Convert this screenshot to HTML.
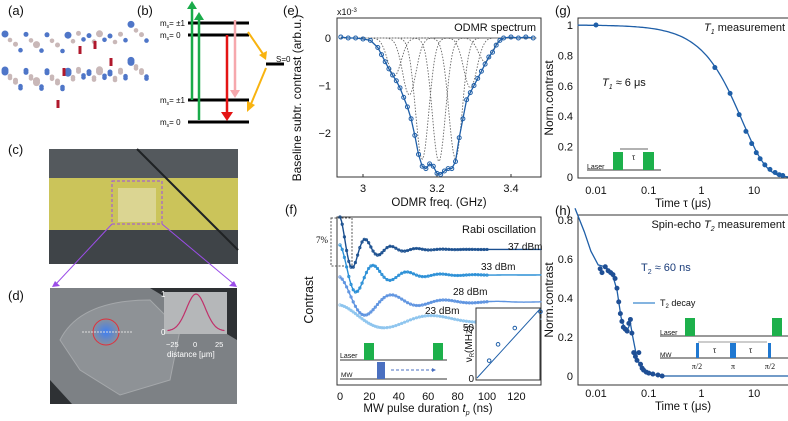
<!DOCTYPE html>
<html><head><meta charset="utf-8"><style>
body{margin:0;background:#fff;}
svg{display:block;font-family:"Liberation Sans",sans-serif;}
</style></head><body>
<svg id="fig" width="788" height="421" viewBox="0 0 788 421">
<!-- panel letters -->
<g font-size="13" fill="#111">
<text x="8" y="15">(a)</text>
<text x="137" y="15">(b)</text>
<text x="8" y="154">(c)</text>
<text x="8" y="300">(d)</text>
<text x="283" y="15">(e)</text>
<text x="285" y="214">(f)</text>
<text x="555" y="15">(g)</text>
<text x="555" y="215">(h)</text>
</g>
<!-- (a) lattice -->
<g id="lattice"></g>
<!-- (b) energy levels -->
<g stroke-width="3">
<line x1="188" y1="23" x2="249" y2="23" stroke="#000"/>
<line x1="188" y1="35" x2="249" y2="35" stroke="#000"/>
<line x1="188" y1="100" x2="249" y2="100" stroke="#000"/>
<line x1="188" y1="122" x2="249" y2="122" stroke="#000"/>
<line x1="266" y1="64" x2="284" y2="64" stroke="#000"/>
<line x1="192" y1="100" x2="192" y2="8" stroke="#1aab4a" stroke-width="2.5"/>
<polygon points="187,9 197,9 192,1" fill="#1aab4a"/>
<line x1="199" y1="120" x2="199" y2="19" stroke="#1aab4a" stroke-width="2.5"/>
<polygon points="194,20 204,20 199,12" fill="#1aab4a"/>
<line x1="227" y1="35" x2="227" y2="112" stroke="#e41414" stroke-width="2.5"/>
<polygon points="221,112 233,112 227,121" fill="#e41414"/>
<line x1="235" y1="20" x2="235" y2="90" stroke="#f6a8ad" stroke-width="2.5"/>
<polygon points="230,90 240,90 235,98" fill="#f6a8ad"/>
<line x1="248" y1="32" x2="263" y2="54" stroke="#f8b310" stroke-width="2"/>
<polygon points="259,55 267,51 266,60" fill="#f8b310"/>
<line x1="266" y1="68" x2="251" y2="104" stroke="#f8b310" stroke-width="2"/>
<polygon points="247,101 255,105 247,112" fill="#f8b310"/>
</g>
<g font-size="8" fill="#111">
<text x="160" y="26">m<tspan font-size="5" dy="2">s</tspan><tspan dy="-2">= ±1</tspan></text>
<text x="160" y="38">m<tspan font-size="5" dy="2">s</tspan><tspan dy="-2">= 0</tspan></text>
<text x="160" y="103">m<tspan font-size="5" dy="2">s</tspan><tspan dy="-2">= ±1</tspan></text>
<text x="160" y="125">m<tspan font-size="5" dy="2">s</tspan><tspan dy="-2">= 0</tspan></text>
<text x="276" y="62">S=0</text>
</g>
<!-- (c) photo -->
<g>
<rect x="49" y="149" width="189" height="115" fill="#3f4448"/>
<rect x="49" y="149" width="189" height="30" fill="#54595d"/>
<rect x="49" y="178" width="189" height="52" fill="#cbc45a"/>
<rect x="118" y="188" width="38" height="34" fill="#dedaa0" opacity="0.8"/>
<line x1="137" y1="149" x2="238" y2="250" stroke="#1f2224" stroke-width="2"/>
<rect x="112" y="181" width="50" height="43" fill="none" stroke="#9b4de8" stroke-dasharray="3,2"/>
<line x1="112" y1="224" x2="55" y2="285" stroke="#9b4de8"/>
<line x1="162" y1="224" x2="235" y2="285" stroke="#9b4de8"/>
<polygon points="52,287 60,286 55,281" fill="#9b4de8"/>
<polygon points="237,287 229,286 234,281" fill="#9b4de8"/>
</g>
<!-- (d) photo -->
<g>
<rect x="50" y="288" width="187" height="116" fill="#7d8185"/>
<polygon points="150,288 237,288 237,340" fill="#2e3134"/>
<polygon points="50,380 50,404 72,404" fill="#2e3134"/>
<path d="M60 340 Q80 300 150 300 L180 330 L170 380 L120 395 L80 370Z" fill="#8e9296" stroke="#a5a8ab"/>
<radialGradient id="spot"><stop offset="0" stop-color="#3f7ff2"/><stop offset="1" stop-color="#3f7ff2" stop-opacity="0"/></radialGradient>
<circle cx="106" cy="332" r="14" fill="url(#spot)"/>
<circle cx="106" cy="332" r="13" fill="none" stroke="#e0303a" stroke-width="1"/>
<line x1="82" y1="332" x2="132" y2="332" stroke="#ddd" stroke-dasharray="2,1"/>
<rect x="164" y="292" width="63" height="42" fill="#b5b7b9"/>
<path id="gauss" fill="none" stroke="#c0306a" stroke-width="1.2"/>
<text x="161" y="297" font-size="8" fill="#fff">1</text>
<text x="161" y="335" font-size="8" fill="#fff">0</text>
<text x="166" y="347" font-size="7.5" fill="#fff">−25</text>
<text x="193" y="347" font-size="7.5" fill="#fff">0</text>
<text x="215" y="347" font-size="7.5" fill="#fff">25</text>
<text x="167" y="357" font-size="8" fill="#fff">distance [μm]</text>
</g>

<!-- (e) ODMR -->
<g id="panelE">
<rect x="337" y="18" width="204" height="159" fill="none" stroke="#333"/>
<text x="337" y="15" font-size="9" fill="#111">x10<tspan font-size="6" dy="-3">-3</tspan></text>
<text x="536" y="31" font-size="11" text-anchor="end" fill="#111">ODMR spectrum</text>
<text transform="translate(301,98) rotate(-90)" font-size="12" text-anchor="middle" fill="#111">Baseline subtr. contrast (arb.u.)</text>
<text x="439" y="206" font-size="11.5" text-anchor="middle" fill="#111">ODMR freq. (GHz)</text>
<g id="eTicks"></g><g id="eMarks"></g>
</g>

<!-- (f) Rabi -->
<g id="panelF">
<rect x="337" y="217" width="204" height="168" fill="none" stroke="#333"/>
<text x="536" y="233" font-size="11" text-anchor="end" fill="#111">Rabi oscillation</text>
<text transform="translate(313,300) rotate(-90)" font-size="12.5" text-anchor="middle" fill="#111">Contrast</text>
<text x="428" y="412" font-size="11.5" text-anchor="middle" fill="#111">MW pulse duration <tspan font-style="italic">t</tspan><tspan font-size="7" dy="3" font-style="italic">p</tspan><tspan dy="-3"> (ns)</tspan></text>
<rect x="331" y="218" width="21" height="48" fill="none" stroke="#555" stroke-dasharray="2,1.5"/>
<text x="316" y="243" font-size="9" font-family="Liberation Serif,serif" fill="#111">7%</text>
<g id="fMarks"></g>
<g font-size="10" fill="#111">
<text x="508" y="250">37 dBm</text><text x="481" y="270">33 dBm</text><text x="453" y="295">28 dBm</text><text x="425" y="314">23 dBm</text>
</g>
<g>
<line x1="340" y1="360" x2="447" y2="360" stroke="#333"/>
<rect x="364" y="343" width="10" height="17" fill="#1db04b"/>
<rect x="433" y="343" width="10" height="17" fill="#1db04b"/>
<line x1="340" y1="379" x2="447" y2="379" stroke="#333"/>
<rect x="377" y="362" width="8" height="17" fill="#4a6fc0"/>
<line x1="391" y1="370" x2="432" y2="370" stroke="#4a6fc0" stroke-dasharray="3,2"/>
<polygon points="432,368 436,370 432,372" fill="#4a6fc0"/>
<text x="340" y="358" font-size="7" fill="#111">Laser</text>
<text x="341" y="377" font-size="6.5" fill="#111">MW</text>
</g>
<rect x="476" y="308" width="64" height="72" fill="#fff" stroke="#333"/>
<g id="insetMarks"></g>
<text transform="translate(472,344) rotate(-90)" font-size="10" text-anchor="middle" fill="#111">ν<tspan font-size="6" dy="2">R</tspan><tspan dy="-2">(MHz)</tspan></text>
</g>

<!-- (g) T1 -->
<g id="panelG">
<rect x="578" y="18" width="212" height="160" fill="none" stroke="#333"/>
<text x="785" y="31" font-size="11" text-anchor="end" fill="#111"><tspan font-style="italic">T<tspan font-size="7" dy="3">1</tspan></tspan><tspan dy="-3"> measurement</tspan></text>
<text x="602" y="86" font-size="11" fill="#111"><tspan font-style="italic">T<tspan font-size="7" dy="3">1</tspan></tspan><tspan dy="-3"> ≈ 6 μs</tspan></text>
<text transform="translate(553,98) rotate(-90)" font-size="12" text-anchor="middle" fill="#111">Norm.contrast</text>
<text x="683" y="207" font-size="11.5" text-anchor="middle" fill="#111">Time τ (μs)</text>
<g>
<line x1="587" y1="170" x2="661" y2="170" stroke="#333"/>
<rect x="613" y="152" width="10" height="18" fill="#1db04b"/>
<rect x="643" y="152" width="11" height="18" fill="#1db04b"/>
<line x1="620" y1="149" x2="648" y2="149" stroke="#333" stroke-width="0.8"/>
<text x="632" y="160" font-size="8" fill="#111">τ</text>
<text x="587" y="169" font-size="7" fill="#111">Laser</text>
</g>
<g id="gMarks"></g>
</g>

<!-- (h) T2 -->
<g id="panelH">
<rect x="578" y="215" width="212" height="170" fill="none" stroke="#333"/>
<text x="785" y="228" font-size="11" text-anchor="end" fill="#111">Spin-echo <tspan font-style="italic">T<tspan font-size="7" dy="3">2</tspan></tspan><tspan dy="-3"> measurement</tspan></text>
<text x="641" y="271" font-size="11" fill="#1b3d7a">T<tspan font-size="7" dy="3">2</tspan><tspan dy="-3"> ≈ 60 ns</tspan></text>
<text transform="translate(553,300) rotate(-90)" font-size="12" text-anchor="middle" fill="#111">Norm.contrast</text>
<text x="683" y="410" font-size="11.5" text-anchor="middle" fill="#111">Time τ (μs)</text>
<line x1="633" y1="303" x2="655" y2="303" stroke="#5b9bd5" stroke-width="1.5"/>
<text x="660" y="306" font-size="9" fill="#111">T<tspan font-size="6" dy="2">2</tspan><tspan dy="-2"> decay</tspan></text>
<g>
<line x1="660" y1="336" x2="788" y2="336" stroke="#333"/>
<rect x="685" y="318" width="10" height="18" fill="#1db04b"/>
<rect x="772" y="318" width="10" height="18" fill="#1db04b"/>
<line x1="660" y1="358" x2="788" y2="358" stroke="#333"/>
<rect x="696" y="343" width="3" height="15" fill="#1f78d1"/>
<rect x="730" y="343" width="6" height="15" fill="#1f78d1"/>
<rect x="768" y="343" width="3" height="15" fill="#1f78d1"/>
<line x1="698" y1="342" x2="767" y2="342" stroke="#333" stroke-width="0.6"/>
<text x="713" y="353" font-size="8" fill="#111">τ</text><text x="749" y="353" font-size="8" fill="#111">τ</text>
<text x="660" y="335" font-size="7" fill="#111">Laser</text>
<text x="660" y="357" font-size="6.5" fill="#111">MW</text>
<g font-size="8" font-family="Liberation Serif,serif" fill="#111" text-anchor="middle"><text x="697" y="369">π/2</text><text x="733" y="369">π</text><text x="770" y="369">π/2</text></g>
</g>
<g id="hMarks"></g>
</g>
</svg>
<script>
// ---------- data ----------
const odmrFreq = [2.94,2.96,2.98,3.0,3.02,3.04,3.05,3.06,3.07,3.08,3.09,3.10,3.11,3.12,3.13,3.14,3.15,3.16,3.17,3.18,3.19,3.20,3.21,3.22,3.23,3.24,3.25,3.26,3.27,3.28,3.29,3.30,3.31,3.32,3.33,3.34,3.35,3.36,3.37,3.38,3.40,3.42,3.44,3.46];
const odmrVal = [0.02,0.0,0.0,-0.02,-0.05,-0.2,-0.35,-0.5,-0.65,-0.78,-0.9,-1.05,-1.25,-1.45,-1.7,-2.05,-2.45,-2.7,-2.75,-2.65,-2.7,-2.85,-2.87,-2.8,-2.75,-2.75,-2.6,-2.1,-1.7,-1.3,-1.15,-1.0,-0.85,-0.7,-0.55,-0.4,-0.3,-0.15,-0.05,0.0,0.02,0.0,0.02,0.0];
const peakCenters = [3.085,3.125,3.16,3.205,3.25,3.29,3.33];
const peakDepths = [-0.8,-1.2,-2.55,-2.6,-2.55,-1.05,-0.5];
const odmrXTicks = [3,3.2,3.4];
const odmrYTicks = [0,-1,-2];

const rabiLabels = ['37 dBm','33 dBm','28 dBm','23 dBm'];
const rabiOffset = [2.3,-1.4,-5.3,-7.9];
const rabiAmp = [4.7,4.35,3.6,2.15];
const rabiPeriod = [17.5,23,36,64];
const rabiDecay = [15,20,28,50];
const rabiColors = ['#1a4f8f','#2a8fd6','#5d93e0','#8cc4ee'];
const rabiSampleT = [0,1.5,3,4.5,6,7.5,9,10.5,12,13.5,15,16.5,18,19.5,21,22.5,24,25.5,27,28.5,30,32,34,36,38,40,42,44,46,48,50,52,54,56,58,60,62,64,66,68,70,72,74,76,78,80,82,84,86,88,90,92,94,96,98,100];
const rabiXTicks = [0,20,40,60,80,100,120];
const insetSqrtP = [0.45,0.78,1.4,2.35];
const insetFreq = [17,33,49,65];
const insetSlope = [29];

const t1Time = [0.01,1.8,3.5,5.2,7,9,11,13,16,20,25,30,35];
const t1Val = [1,0.72,0.55,0.41,0.3,0.22,0.16,0.12,0.08,0.05,0.03,0.015,0.01];
const t1Params = [6,0.95];
const t1YTicks = [0,0.2,0.4,0.6,0.8,1];
const logXTicks = [0.01,0.1,1,10];

const t2Time = [0.012,0.013,0.015,0.017,0.019,0.021,0.023,0.025,0.027,0.029,0.031,0.033,0.036,0.039,0.042,0.045,0.048,0.052,0.056,0.06,0.065,0.07,0.075,0.08,0.09,0.1,0.12,0.15,0.18];
const t2Val = [0.55,0.53,0.56,0.54,0.53,0.52,0.5,0.45,0.38,0.32,0.28,0.25,0.24,0.23,0.27,0.29,0.22,0.12,0.1,0.08,0.12,0.06,0.04,0.03,0.02,0.015,0.01,0.005,0.0];
const t2FitTime = [0.004,0.006,0.008,0.011,0.015,0.02,0.025,0.03,0.035,0.04,0.045,0.05,0.06,0.07,0.1,0.2,50];
const t2FitVal = [0.86,0.74,0.64,0.57,0.56,0.53,0.44,0.3,0.24,0.24,0.27,0.2,0.09,0.05,0.01,0,0];
const t2YTicks = [0,0.2,0.4,0.6,0.8];

// ---------- helpers ----------
const NS='http://www.w3.org/2000/svg';
function mk(parent,tag,attrs){const e=document.createElementNS(NS,tag);for(const k in attrs)e.setAttribute(k,attrs[k]);parent.appendChild(e);return e;}
function txt(parent,x,y,s,anchor,size){const e=mk(parent,'text',{x:x,y:y,'text-anchor':anchor,'font-size':size,fill:'#111'});e.textContent=s;return e;}

// ---------- (a) lattice ----------
const lat=document.getElementById('lattice');
[[40,48],[70,72],[60,95]].forEach((L,li)=>{
  for(let i=0;i<14;i++){
    const x=5+i*10.5, y=L[0]-6+((i*7)%12)-i*0.8+li*8+ (i%2)*4;
    const c=mk(lat,'circle',{cx:x,cy:y,r:(i%3==0)?3.5:2.5,fill:(i%2)?'#c9b8b8':'#4f76c8'});
    
    
    const c2=mk(lat,'circle',{cx:x+5,cy:y+6,r:2.3,fill:(i%2)?'#4f76c8':'#c9b8b8'});
    
    
  }
});
[[80,50],[95,45],[64,72],[111,62],[58,104]].forEach(p=>{const r=mk(lat,'rect',{x:p[0]-1.5,y:p[1]-4,width:3,height:8,fill:'#b0182c'});});

// ---------- (d) gauss inset ----------
{let d='';for(let i=0;i<=60;i++){const u=-30+i;d+=(i?'L':'M')+(196+u*0.95).toFixed(1)+' '+(331-37*Math.exp(-u*u/(2*100))).toFixed(1);}document.getElementById('gauss').setAttribute('d',d);}

// ---------- (e) ODMR ----------
const ex=f=>363+(f-3)*370, ey=v=>38-v*47.5;
const eT=document.getElementById('eTicks'), eM=document.getElementById('eMarks');
odmrXTicks.forEach(t=>{const l=txt(eT,ex(t),192,String(t),'middle',11);mk(eT,'line',{x1:ex(t),y1:177,x2:ex(t),y2:174,stroke:'#333'});});
odmrYTicks.forEach(t=>{const l=txt(eT,331,ey(t)+4,t===0?'0':'−'+Math.abs(t),'end',11);});
const sig=0.018;
peakCenters.forEach((c,i)=>{let d='';for(let f=2.94;f<=3.47;f+=0.004){const v=peakDepths[i]*Math.exp(-(f-c)*(f-c)/(2*sig*sig));d+=(d?'L':'M')+ex(f).toFixed(1)+' '+ey(v).toFixed(1);}
 const p=mk(eM,'path',{d:d,fill:'none',stroke:'#666','stroke-dasharray':'1.5,1.5','stroke-width':0.9});
 });
{let d='';odmrFreq.forEach((f,i)=>{d+=(i?'L':'M')+ex(f).toFixed(1)+' '+ey(odmrVal[i]).toFixed(1);});
 const p=mk(eM,'path',{d:d,fill:'none',stroke:'#1f5fa8','stroke-width':1.3});}
odmrFreq.forEach((f,i)=>{if(ex(f)>540)return;const c=mk(eM,'circle',{cx:ex(f),cy:ey(odmrVal[i]),r:2,fill:'none',stroke:'#1f5fa8','stroke-width':1});});

// ---------- (f) Rabi ----------
const fx=t=>340+t*1.47, fy=v=>217+(7-v)*6.9;
const fM=document.getElementById('fMarks');
rabiXTicks.forEach(t=>{const l=txt(fM,fx(t),400,String(t),'middle',11);});
const rabiFn=(i,t)=>rabiOffset[i]+rabiAmp[i]*Math.exp(-t/rabiDecay[i])*Math.cos(2*Math.PI*t/rabiPeriod[i]);
rabiLabels.forEach((lab,i)=>{
  let d='';for(let t=0;t<=137;t+=1){d+=(t?'L':'M')+fx(t).toFixed(1)+' '+fy(rabiFn(i,t)).toFixed(1);}
  const p=mk(fM,'path',{d:d,fill:'none',stroke:rabiColors[i],'stroke-width':1.4});
  
  
  rabiSampleT.forEach(t=>{const c=mk(fM,'circle',{cx:fx(t),cy:fy(rabiFn(i,t)),r:1.2,fill:'none',stroke:rabiColors[i],'stroke-width':0.8});
    
    });
});
const ix=p=>477+p*27, iy=v=>378-v*1.02;
const iM=document.getElementById('insetMarks');
const il=mk(iM,'line',{x1:ix(0),y1:iy(0),x2:ix(2.33),y2:iy(2.33*insetSlope[0]),stroke:'#1f5fa8','stroke-width':1});


insetSqrtP.forEach((p,i)=>{const c=mk(iM,'circle',{cx:ix(p),cy:iy(insetFreq[i]),r:1.8,fill:'none',stroke:'#1f5fa8'});});
[0,50].forEach(v=>{const l=txt(iM,474,iy(v)+4,String(v),'end',10);});

// ---------- log axis ----------
const lx=t=>596+52.7*(Math.log10(t)+2);
function logTicks(g,y,name){logXTicks.forEach(t=>{const l=txt(g,lx(t),y,String(t),'middle',11);});}

// ---------- (g) T1 ----------
const gy=v=>177-v*152;
const gM=document.getElementById('gMarks');
logTicks(gM,194,'t1-x-tick');
t1YTicks.forEach(t=>{const l=txt(gM,573,gy(t)+4,String(t),'end',11);});
{let d='';for(let k=0;k<=120;k++){const lt=-2.35+k*0.034;const t=Math.pow(10,lt);const v=Math.exp(-Math.pow(t/t1Params[0],t1Params[1]));d+=(k?'L':'M')+lx(t).toFixed(1)+' '+gy(v).toFixed(1);}
 const p=mk(gM,'path',{d:d,fill:'none',stroke:'#1f5fa8','stroke-width':1.3});}
t1Time.forEach((t,i)=>{const c=mk(gM,'circle',{cx:lx(t),cy:gy(t1Val[i]),r:2,fill:'#1f5fa8',stroke:'#1f5fa8'});});

// ---------- (h) T2 ----------
const hy=v=>376-v*195;
const hM=document.getElementById('hMarks');
logTicks(hM,397,'t2-x-tick');
t2YTicks.forEach(t=>{const l=txt(hM,573,hy(t)+4,String(t),'end',11);});
{let d='';t2FitTime.forEach((t,i)=>{let x=Math.min(lx(t),789);d+=(i?'L':'M')+x.toFixed(1)+' '+hy(t2FitVal[i]).toFixed(1);});
 const p=mk(hM,'path',{d:d,fill:'none',stroke:'#1f5fa8','stroke-width':1.3});}
t2Time.forEach((t,i)=>{const c=mk(hM,'circle',{cx:lx(t),cy:hy(t2Val[i]),r:2,fill:'#1f4f95',stroke:'#1f4f95'});});
</script>
</body></html>
